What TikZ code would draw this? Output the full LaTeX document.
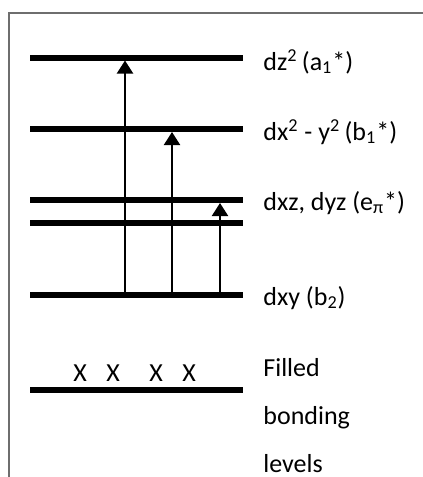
\documentclass[tikz,border=0pt]{standalone}
\usepackage{fontspec}
\setmainfont{Carlito}
\usepackage{xcolor}
\usetikzlibrary{arrows.meta}
\definecolor{framegrey}{HTML}{6E6E6E}

\begin{document}
\begin{tikzpicture}[x=0.5pt, y=-0.5pt,
  level/.style={line width=3pt},
  trans/.style={line width=1pt, -{Triangle[width=8pt,length=6.5pt]}},
  lab/.style={anchor=base west, inner sep=0pt, font=\fontsize{13}{15}\selectfont},
  elec/.style={anchor=base, inner sep=0pt, font=\fontsize{13}{15}\selectfont}]
  \useasboundingbox (0,0) rectangle (423,477);
  \draw[framegrey, line width=1pt] (9,477) -- (9,13) -- (423,13);
  % energy levels
  \foreach \n/\y in {a1/57.5, b1/129, ep/200, eq/223, b2/294.5, fb/389.5}
    \draw[level] (30,\y) coordinate (\n W) -- (243,\y) coordinate (\n E);
  % transitions from dxy
  \coordinate (s1) at (125,292); \coordinate (t1) at (125,60.5);
  \coordinate (s2) at (172,292); \coordinate (t2) at (172,132);
  \coordinate (s3) at (220,292); \coordinate (t3) at (220,203);
  \foreach \i in {1,2,3} \draw[trans] (s\i) -- (t\i);
  % labels
  \node[lab] (La1) at (263,70)  {dz\textsuperscript{2}\,(a\textsubscript{1}*)};
  \node[lab] (Lb1) at (263,140) {dx\textsuperscript{2} - y\textsuperscript{2}\,(b\textsubscript{1}*)};
  \node[lab] (Le)  at (263,210) {dxz, dyz (e\textsubscript{π}*)};
  \node[lab] (Lb2) at (263,305) {dxy (b\textsubscript{2})};
  \node[lab] (Lf1) at (263,376) {Filled};
  \node[lab] (Lf2) at (263,424) {bonding};
  \node[lab] (Lf3) at (263,472) {levels};
  % electrons
  \foreach \x [count=\k] in {80,113,156,189}
    \node[elec] (X\k) at (\x,381) {X};
\end{tikzpicture}
\end{document}
